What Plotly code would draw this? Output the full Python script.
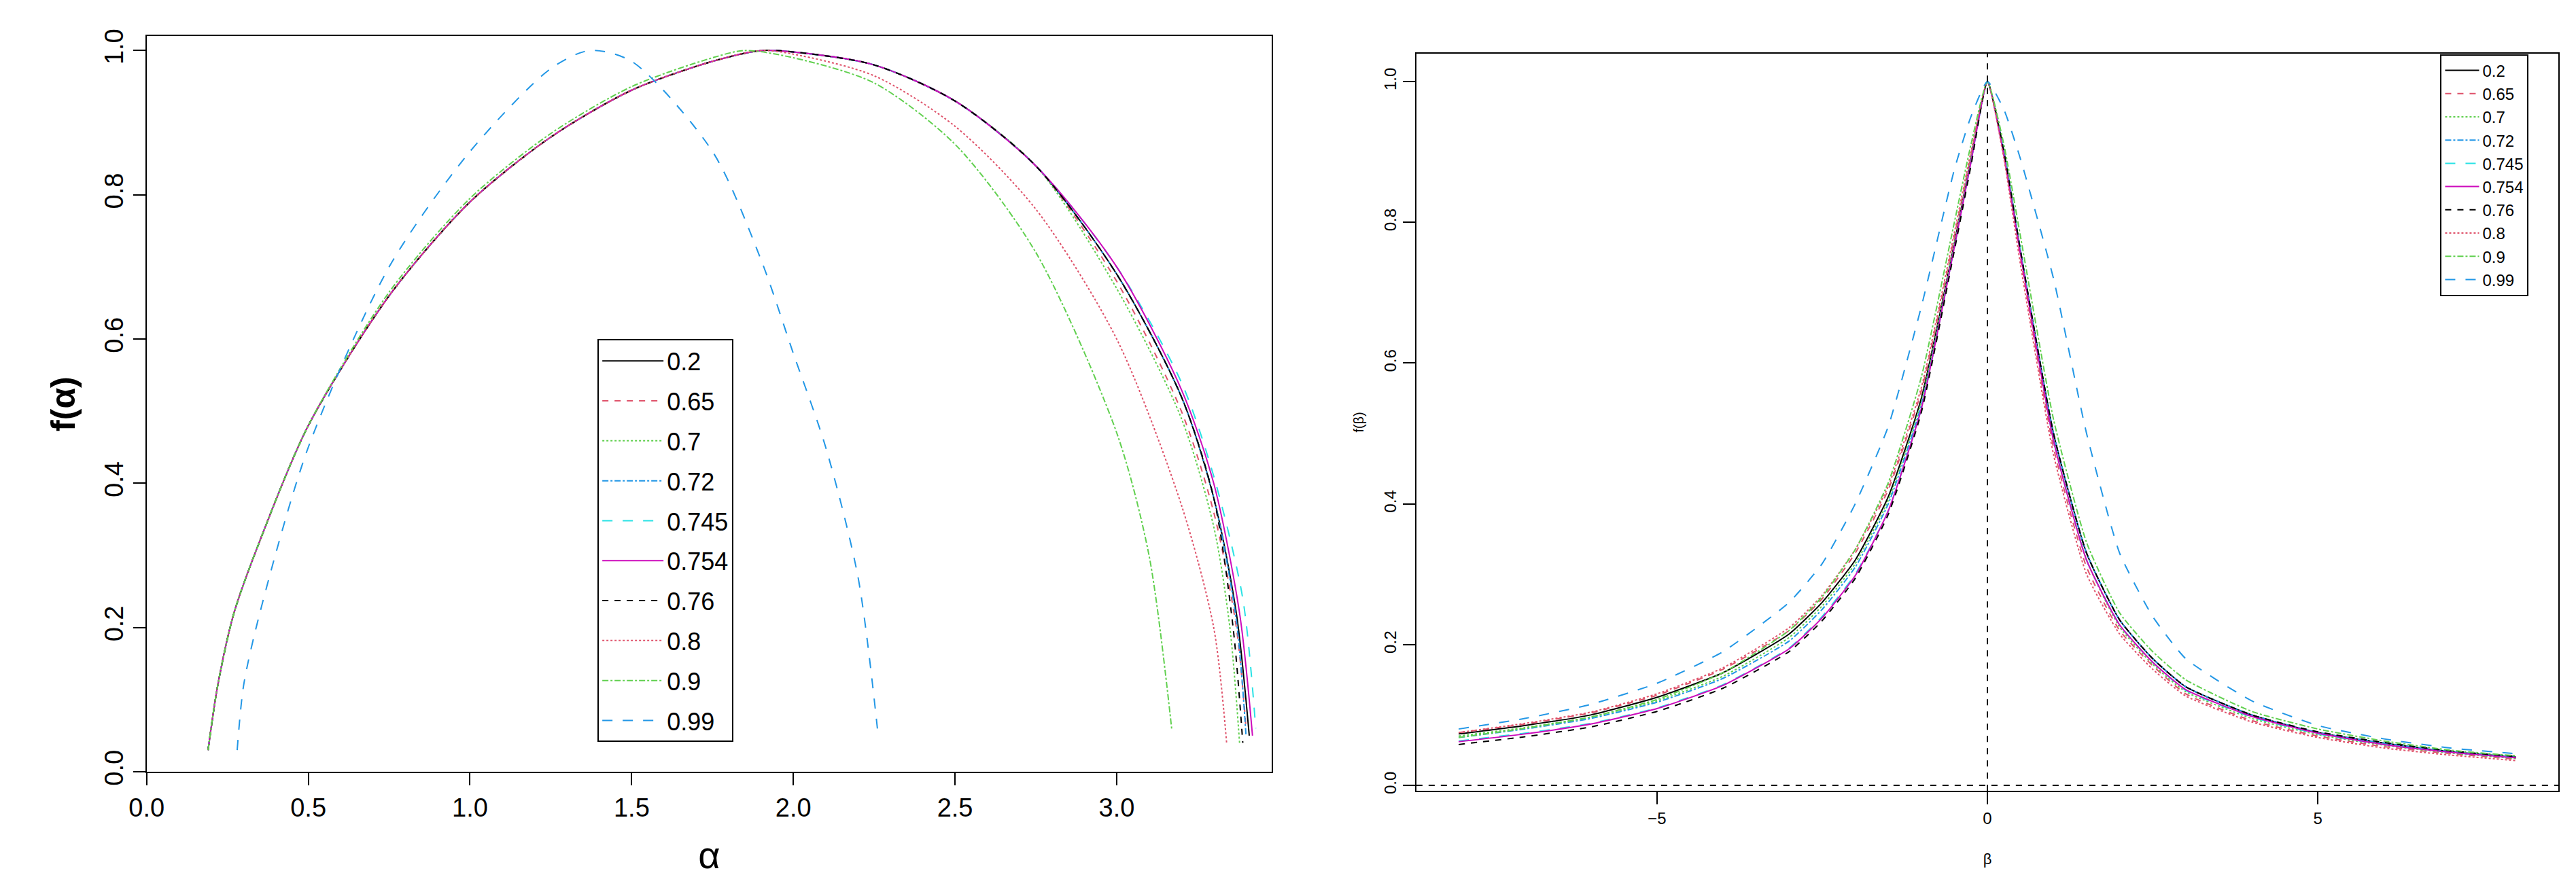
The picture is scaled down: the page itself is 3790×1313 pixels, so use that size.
import plotly.graph_objects as go

names = ["0.2", "0.65", "0.7", "0.72", "0.745", "0.754", "0.76", "0.8", "0.9", "0.99"]
colors = ["black", "#DF536B", "#61D04F", "#2297E6", "#28E2E5", "#CD0BBC",
          "black", "#DF536B", "#61D04F", "#2297E6"]
dashes = ["solid", "dash", "dot", "dashdot", "longdash", "solid",
          "dash", "dot", "dashdot", "longdash"]

# ---- left panel: f(alpha) ----
alpha_common = [0.19, 0.22, 0.27, 0.35, 0.5, 0.75, 1.0, 1.25, 1.5, 1.75, 1.9, 2.0, 2.25, 2.5, 2.75, 3.0, 3.2, 3.3]
f_common = [0.03, 0.12, 0.22, 0.32, 0.48, 0.66, 0.79, 0.88, 0.945, 0.985, 1.0, 0.998, 0.98, 0.93, 0.84, 0.69, 0.52, 0.38]
alpha_02 = alpha_common + [3.37, 3.41]
f_02 = f_common + [0.22, 0.05]
alpha_065 = alpha_common + [3.37, 3.40]
f_065 = f_common[:15] + [0.68, 0.5, 0.36, 0.2, 0.06]
alpha_07 = alpha_common + [3.35, 3.38]
f_07 = f_common[:15] + [0.67, 0.49, 0.34, 0.2, 0.04]
alpha_072 = alpha_common + [3.37, 3.40]
f_072 = f_common + [0.21, 0.05]
alpha_0745 = alpha_common + [3.39, 3.43]
f_0745 = f_common[:15] + [0.7, 0.54, 0.41, 0.24, 0.06]
alpha_0754 = alpha_common + [3.38, 3.42]
f_0754 = f_common[:15] + [0.7, 0.53, 0.4, 0.22, 0.05]
alpha_076 = alpha_common + [3.36, 3.39]
f_076 = f_common + [0.2, 0.04]
alpha_08 = [0.19, 0.22, 0.27, 0.35, 0.5, 0.75, 1.0, 1.25, 1.5, 1.75, 1.9, 2.0, 2.25, 2.5, 2.75, 3.0, 3.2, 3.3, 3.34]
f_08 = [0.03, 0.12, 0.22, 0.32, 0.48, 0.66, 0.79, 0.88, 0.945, 0.985, 1.0, 0.995, 0.965, 0.895, 0.78, 0.6, 0.37, 0.2, 0.04]
alpha_09 = [0.19, 0.22, 0.27, 0.35, 0.5, 0.75, 1.0, 1.25, 1.5, 1.75, 1.85, 2.0, 2.25, 2.5, 2.75, 3.0, 3.1, 3.17]
f_09 = [0.03, 0.12, 0.22, 0.32, 0.48, 0.665, 0.795, 0.885, 0.95, 0.99, 1.0, 0.99, 0.955, 0.87, 0.72, 0.47, 0.3, 0.06]
alpha_099 = [0.28, 0.3, 0.35, 0.5, 0.75, 1.0, 1.25, 1.37, 1.5, 1.75, 1.9, 2.0, 2.1, 2.2, 2.26]
f_099 = [0.03, 0.12, 0.22, 0.45, 0.70, 0.86, 0.975, 1.0, 0.985, 0.86, 0.71, 0.58, 0.45, 0.27, 0.06]

alphas = [alpha_02, alpha_065, alpha_07, alpha_072, alpha_0745, alpha_0754, alpha_076, alpha_08, alpha_09, alpha_099]
fal = [f_02, f_065, f_07, f_072, f_0745, f_0754, f_076, f_08, f_09, f_099]

# ---- right panel: f(beta) ----
beta = [-8, -7, -6, -5, -4, -3, -2.5, -2, -1.5, -1, -0.5, -0.25, 0, 0.25, 0.5, 1, 1.5, 2, 2.5, 3, 4, 5, 6, 7, 8]
fb_02 = [.073, .085, .10, .125, .16, .215, .26, .32, .41, .55, .77, .89, 1, .90, .76, .50, .33, .235, .18, .14, .10, .075, .06, .048, .04]
fb_065 = [.075, .087, .103, .128, .165, .22, .265, .33, .42, .56, .78, .895, 1, .895, .75, .48, .31, .22, .17, .13, .092, .07, .055, .045, .037]
fb_07 = [.07, .082, .097, .12, .155, .21, .255, .315, .405, .545, .77, .89, 1, .90, .76, .49, .32, .225, .172, .133, .095, .072, .057, .046, .038]
fb_072 = [.068, .08, .095, .118, .152, .205, .25, .31, .40, .54, .765, .885, 1, .90, .76, .50, .33, .235, .18, .14, .10, .075, .06, .048, .04]
fb_0745 = [.063, .074, .088, .11, .143, .195, .24, .30, .39, .535, .765, .885, 1, .90, .76, .49, .32, .228, .175, .135, .097, .073, .058, .047, .039]
fb_0754 = [.062, .073, .087, .109, .142, .194, .238, .298, .39, .535, .765, .885, 1, .895, .755, .49, .32, .228, .175, .136, .098, .074, .058, .047, .039]
fb_076 = [.058, .069, .083, .105, .138, .19, .234, .294, .385, .53, .76, .88, 1, .90, .76, .50, .33, .235, .18, .14, .10, .076, .061, .049, .041]
fb_08 = [.075, .088, .104, .13, .167, .224, .27, .335, .425, .565, .785, .90, 1, .89, .74, .47, .30, .215, .165, .127, .09, .068, .053, .043, .035]
fb_09 = [.068, .081, .097, .122, .16, .22, .268, .335, .43, .58, .80, .91, 1, .91, .78, .52, .345, .245, .19, .15, .105, .08, .063, .05, .042]
fb_099 = [.08, .095, .115, .145, .19, .26, .315, .40, .51, .68, .875, .95, 1, .96, .89, .72, .50, .33, .24, .18, .12, .085, .066, .053, .045]
fbs = [fb_02, fb_065, fb_07, fb_072, fb_0745, fb_0754, fb_076, fb_08, fb_09, fb_099]

left_xticks = [0.0, 0.5, 1.0, 1.5, 2.0, 2.5, 3.0]
left_yticks = [0.0, 0.2, 0.4, 0.6, 0.8, 1.0]
right_xticks = [-5, 0, 5]
right_yticks = [0.0, 0.2, 0.4, 0.6, 0.8, 1.0]

fig = go.Figure()
for i, n in enumerate(names):
    fig.add_trace(go.Scatter(x=alphas[i], y=fal[i], mode="lines", name=n,
                             line=dict(color=colors[i], dash=dashes[i], width=2, shape="spline", smoothing=0.8),
                             xaxis="x", yaxis="y", legend="legend", legendgroup="L" + n))
for i, n in enumerate(names):
    fig.add_trace(go.Scatter(x=beta, y=fbs[i], mode="lines", name=n,
                             line=dict(color=colors[i], dash=dashes[i], width=2, shape="spline", smoothing=0.5),
                             xaxis="x2", yaxis="y2", legend="legend2"))

W, H = 3790, 1313
ax = dict(showline=True, linecolor="black", linewidth=2, mirror=True, ticks="outside",
          ticklen=18, tickwidth=2, tickcolor="black", showgrid=False, zeroline=False)
fig.update_layout(
    width=W, height=H, margin=dict(l=0, r=0, t=0, b=0),
    paper_bgcolor="white", plot_bgcolor="white",
    font=dict(family="Liberation Sans, Arial", color="black"),
    xaxis=dict(**ax, domain=[183 / W, 1850 / W], range=[0, 3.48], tickvals=left_xticks,
               ticktext=["%.1f" % v for v in left_xticks], tickfont=dict(size=38),
               title=dict(text="α", font=dict(size=56), standoff=30)),
    yaxis=dict(**ax, domain=[1 - 1145 / H, 1 - 36 / H], range=[0, 1.02], tickvals=left_yticks,
               ticktext=["%.1f" % v for v in left_yticks], tickfont=dict(size=38), tickangle=-90,
               title=dict(text="<b>f(α)</b>", font=dict(size=50), standoff=20)),
    xaxis2=dict(**ax, domain=[2064 / W, 3756 / W], range=[-8.64, 8.64], tickvals=right_xticks,
                tickfont=dict(size=24), anchor="y2",
                title=dict(text="β", font=dict(size=22), standoff=40)),
    yaxis2=dict(**ax, domain=[1 - 1174 / H, 1 - 62 / H], range=[-0.008, 1.04], tickvals=right_yticks,
                ticktext=["%.1f" % v for v in right_yticks], tickfont=dict(size=24), tickangle=-90,
                anchor="x2", title=dict(text="f(β)", font=dict(size=20), standoff=20)),
    legend=dict(x=851 / W, y=1 - 493 / H, xanchor="left", yanchor="top", bgcolor="white",
                bordercolor="black", borderwidth=2, font=dict(size=36), itemwidth=90,
                tracegroupgap=9),
    legend2=dict(x=3581 / W, y=1 - 63 / H, xanchor="left", yanchor="top", bgcolor="white",
                 bordercolor="black", borderwidth=2, font=dict(size=24), itemwidth=50),
    shapes=[
        dict(type="line", xref="x2", yref="y2 domain", x0=0, x1=0, y0=0, y1=1,
             line=dict(color="black", dash="dash", width=2)),
        dict(type="line", xref="x2 domain", yref="y2", x0=0, x1=1, y0=0, y1=0,
             line=dict(color="black", dash="dash", width=2)),
    ],
)
fig.write_html("out.html")
